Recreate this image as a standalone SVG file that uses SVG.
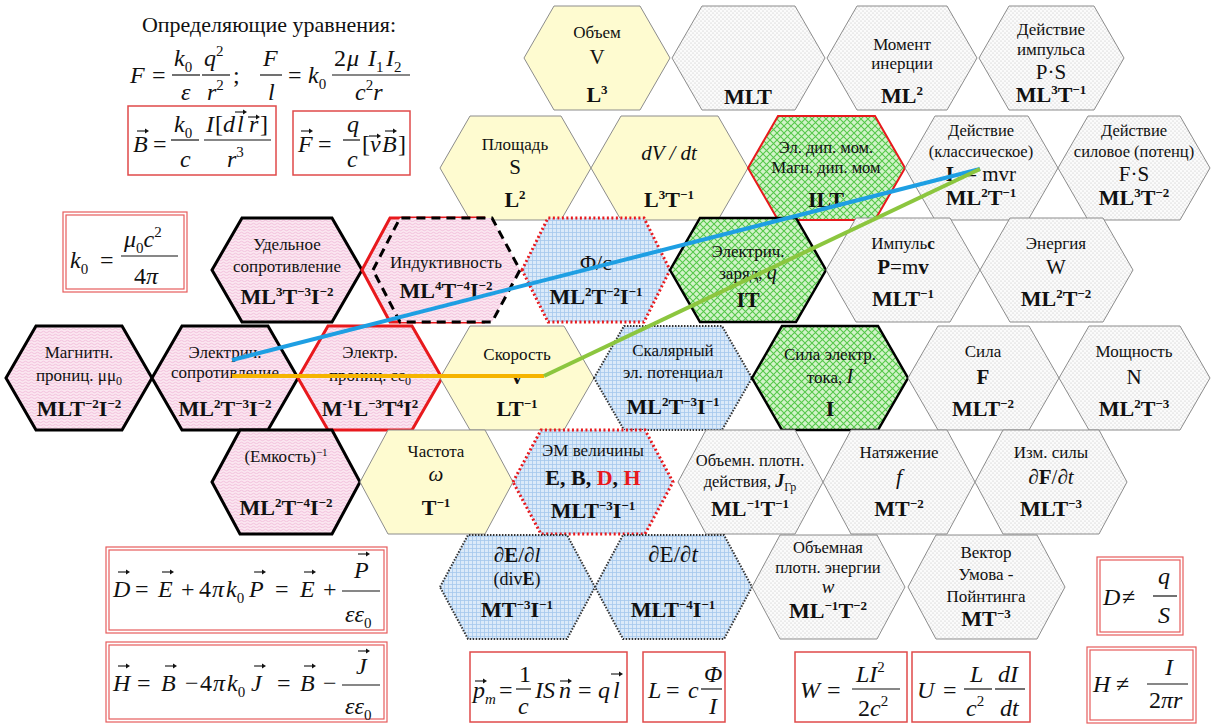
<svg xmlns="http://www.w3.org/2000/svg" width="1214" height="724" viewBox="0 0 1214 724">
<style>
.t{font-family:"Liberation Serif","Times New Roman",serif;fill:#111;text-anchor:middle}
.lb{font-size:17px}
.ls{font-size:16.5px}
.lt{font-family:"Liberation Serif",serif}
.dm{font-size:22px;font-weight:bold}
.sy{font-size:21px}
.p{font-size:13px;baseline-shift:8px}
.q{font-size:11px;baseline-shift:6px}
.b{font-size:12px;baseline-shift:-4px}
.i{font-style:italic}
.bd{font-weight:bold}
.red{fill:#e8191d}
.hpk{fill:url(#pk);stroke:#000;stroke-width:3}
.hpr{fill:url(#pk);stroke:#e8191d;stroke-width:3}
.hyl{fill:#fefbd0;stroke:#8c8c8c;stroke-width:1}
.hdt{fill:url(#dt);stroke:#8c8c8c;stroke-width:1}
.hgr{fill:url(#gr);stroke:#333;stroke-width:2;stroke-dasharray:1.5 1.5}
.hgrr{fill:url(#gr);stroke:#e8191d;stroke-width:3;stroke-dasharray:2 2.5}
.hgn{fill:url(#gn);stroke:#000;stroke-width:2.5}
.hgnr{fill:url(#gn);stroke:#e8191d;stroke-width:2}
.f{font-family:"Liberation Serif","Times New Roman",serif;font-style:italic;fill:#111;font-size:24px}
.u{font-style:normal}
.fs{font-size:15px;font-style:normal;baseline-shift:-6px}
.fp{font-size:15px;font-style:normal;baseline-shift:10px}
.fb{stroke:#111;stroke-width:1.2}
.bx{fill:none;stroke:#e04a4a;stroke-width:1.5}
.bx2{fill:none;stroke:#e65c5c;stroke-width:1.2}
</style>
<defs>
<pattern id="pk" width="6" height="6" patternUnits="userSpaceOnUse">
<rect width="6" height="6" fill="#fbe6f0"/>
<path d="M0 2Q1.5 0.5 3 2T6 2M0 5Q1.5 3.5 3 5T6 5" fill="none" stroke="#eeb0d2" stroke-width="0.7"/>
</pattern>
<pattern id="dt" width="4" height="4" patternUnits="userSpaceOnUse">
<rect width="4" height="4" fill="#fbfbfb"/>
<circle cx="1" cy="1" r="0.5" fill="#b4b4b4"/>
<circle cx="3" cy="3" r="0.5" fill="#b4b4b4"/>
</pattern>
<pattern id="gr" width="4" height="4" patternUnits="userSpaceOnUse">
<rect width="4" height="4" fill="#dbeaf9"/>
<path d="M0 .5H4M.5 0V4" stroke="#a5c8ec" stroke-width="0.8"/>
</pattern>
<pattern id="gn" width="7" height="7" patternUnits="userSpaceOnUse">
<rect width="7" height="7" fill="#d2f3c9"/>
<path d="M0 0L7 7M7 0L0 7" stroke="#55c84a" stroke-width="1.1"/>
</pattern>
<g id="va"><path d="M0 0H9.5" stroke="#111" stroke-width="1.1"/><path d="M8 -2.4L12 0L8 2.4Z" fill="#111"/></g>
</defs>
<rect width="1214" height="724" fill="#fff"/>

<!-- Row 1 -->
<g id="n-obem">
<polygon class="hyl" points="524,58 554,6 640,6 670,58 640,110 554,110"/>
<text class="t lb" x="597" y="38">Объем</text>
<text class="t sy" x="597" y="64">V</text>
<text class="t dm" x="597" y="102">L<tspan class="p">3</tspan></text>
</g>
<g id="n-mlt">
<polygon class="hdt" points="672,58 702,6 795,6 825,58 795,110 702,110"/>
<text class="t dm" x="748" y="104">MLT</text>
</g>
<g id="n-moment">
<polygon class="hdt" points="827,58 857,6 947,6 977,58 947,110 857,110"/>
<text class="t lb" x="902" y="50">Момент</text>
<text class="t lb" x="902" y="69">инерции</text>
<text class="t dm" x="902" y="103">ML<tspan class="p">2</tspan></text>
</g>
<g id="n-deistvie-imp">
<polygon class="hdt" points="979,58 1009,6 1094,6 1124,58 1094,110 1009,110"/>
<text class="t lb" x="1051" y="35">Действие</text>
<text class="t lb" x="1051" y="55">импульса</text>
<text class="t sy" x="1051" y="79">P·S</text>
<text class="t dm" x="1051" y="102">ML<tspan class="p">3</tspan>T<tspan class="p">−1</tspan></text>
</g>

<!-- Row 2 -->
<g id="n-ploshad">
<polygon class="hyl" points="440,168 470,116 561,116 591,168 561,220 470,220"/>
<text class="t lb" x="515" y="150">Площадь</text>
<text class="t sy" x="515" y="174">S</text>
<text class="t dm" x="515" y="207">L<tspan class="p">2</tspan></text>
</g>
<g id="n-dvdt">
<polygon class="hyl" points="591,168 621,116 718,116 748,168 718,220 621,220"/>
<text class="t sy i" x="669" y="160">dV / dt</text>
<text class="t dm" x="669" y="207">L<tspan class="p">3</tspan>T<tspan class="p">−1</tspan></text>
</g>
<g id="n-dipole">
<polygon class="hgnr" points="748,168 778,116 875,116 905,168 875,220 778,220"/>
<text class="t ls" x="826" y="153">Эл. дип. мом.</text>
<text class="t ls" x="826" y="173">Магн. дип. мом</text>
<text class="t dm" x="826" y="207">ILT</text>
</g>
<g id="n-deistvie-klass">
<polygon class="hdt" points="905,168 935,116 1028,116 1058,168 1028,220 935,220"/>
<text class="t ls" x="981" y="136">Действие</text>
<text class="t ls" x="981" y="157">(классическое)</text>
<text class="t sy" x="981" y="181"><tspan class="bd">L</tspan> = mvr</text>
<text class="t dm" x="981" y="205">ML<tspan class="p">2</tspan>T<tspan class="p">−1</tspan></text>
</g>
<g id="n-deistvie-sil">
<polygon class="hdt" points="1058,168 1088,116 1180,116 1210,168 1180,220 1088,220"/>
<text class="t ls" x="1134" y="136">Действие</text>
<text class="t ls" x="1134" y="157">силовое (потенц)</text>
<text class="t sy" x="1134" y="181">F·S</text>
<text class="t dm" x="1134" y="205">ML<tspan class="p">3</tspan>T<tspan class="p">−2</tspan></text>
</g>

<!-- Row 3 -->
<g id="n-udelnoe">
<polygon class="hpk" points="212,270 242,218 332,218 362,270 332,322 242,322"/>
<text class="t lb" x="287" y="250">Удельное</text>
<text class="t lb" x="287" y="272">сопротивление</text>
<text class="t dm" x="287" y="304">ML<tspan class="p">3</tspan>T<tspan class="p">−3</tspan>I<tspan class="p">−2</tspan></text>
</g>
<g id="n-induktivnost">
<polygon class="hpr" points="362,270 390,218 484,218 512,270 484,322 390,322"/>
<polygon points="373,270 400,218 492,218 520,270 492,322 400,322" fill="url(#pk)" stroke="#000" stroke-width="3" stroke-dasharray="9 6"/>
<text class="t lb" x="446" y="268">Индуктивность</text>
<text class="t dm" x="446" y="298">ML<tspan class="p">4</tspan>T<tspan class="p">−4</tspan>I<tspan class="p">−2</tspan></text>
</g>
<g id="n-phi-c">
<polygon class="hgrr" points="522,270 548,218 644,218 670,270 644,322 548,322"/>
<text class="t" x="596" y="270" font-size="22">Φ/c</text>
<text class="t dm" x="596" y="304">ML<tspan class="p">2</tspan>T<tspan class="p">−2</tspan>I<tspan class="p">−1</tspan></text>
</g>
<g id="n-zaryad">
<polygon class="hgn" points="670,270 700,218 796,218 826,270 796,322 700,322"/>
<text class="t lb" x="748" y="257">Электрич.</text>
<text class="t lb" x="748" y="279">заряд, <tspan class="i" font-size="20">q</tspan></text>
<text class="t dm" x="748" y="307">IT</text>
</g>
<g id="n-impuls">
<polygon class="hdt" points="826,270 856,218 950,218 980,270 950,322 856,322"/>
<text class="t lb" x="903" y="249">Импуль<tspan class="bd">с</tspan></text>
<text class="t sy" x="903" y="274"><tspan class="bd">P</tspan>=m<tspan class="bd">v</tspan></text>
<text class="t dm" x="903" y="306">MLT<tspan class="p">−1</tspan></text>
</g>
<g id="n-energiya">
<polygon class="hdt" points="980,270 1010,218 1103,218 1133,270 1103,322 1010,322"/>
<text class="t lb" x="1056" y="249">Энергия</text>
<text class="t sy" x="1056" y="274">W</text>
<text class="t dm" x="1056" y="306">ML<tspan class="p">2</tspan>T<tspan class="p">−2</tspan></text>
</g>

<!-- Row 4 -->
<g id="n-magn-pronic">
<polygon class="hpk" points="6,378 36,326 122,326 152,378 122,430 36,430"/>
<text class="t lb" x="79" y="358">Магнитн.</text>
<text class="t lb" x="79" y="381">прониц. μμ<tspan class="b">0</tspan></text>
<text class="t dm" x="79" y="416">MLT<tspan class="p">−2</tspan>I<tspan class="p">−2</tspan></text>
</g>
<g id="n-el-sopr">
<polygon class="hpk" points="152,378 182,326 268,326 298,378 268,430 182,430"/>
<text class="t lb" x="225" y="358">Электрич.</text>
<text class="t lb" x="225" y="378">сопротивление</text>
<text class="t dm" x="225" y="416">ML<tspan class="p">2</tspan>T<tspan class="p">−3</tspan>I<tspan class="p">−2</tspan></text>
</g>
<g id="n-el-pronic">
<polygon class="hpr" points="298,378 328,326 412,326 442,378 412,430 328,430"/>
<text class="t lb" x="370" y="358">Электр.</text>
<text class="t lb" x="370" y="381">прониц. εε<tspan class="b">0</tspan></text>
<text class="t dm" x="370" y="416">M<tspan class="p">-1</tspan>L<tspan class="p">−3</tspan>T<tspan class="p">4</tspan>I<tspan class="p">2</tspan></text>
</g>
<g id="n-skorost">
<polygon class="hyl" points="440,378 470,326 564,326 594,378 564,430 470,430"/>
<text class="t lb" x="517" y="360">Скорость</text>
<text class="t sy bd" x="517" y="384">v</text>
<text class="t dm" x="517" y="416">LT<tspan class="p">−1</tspan></text>
</g>
<g id="n-potencial">
<polygon class="hgr" points="594,378 624,326 722,326 752,378 722,430 624,430"/>
<text class="t lb" x="673" y="356">Скалярный</text>
<text class="t lb" x="673" y="378">эл. потенциал</text>
<text class="t dm" x="673" y="414">ML<tspan class="p">2</tspan>T<tspan class="p">−3</tspan>I<tspan class="p">−1</tspan></text>
</g>
<g id="n-tok">
<polygon class="hgn" points="752,378 782,326 878,326 908,378 878,430 782,430"/>
<text class="t lb" x="830" y="360">Сила электр.</text>
<text class="t lb" x="830" y="383">тока, <tspan class="i" font-size="20">I</tspan></text>
<text class="t dm" x="830" y="416">I</text>
</g>
<g id="n-sila">
<polygon class="hdt" points="908,378 938,326 1029,326 1059,378 1029,430 938,430"/>
<text class="t lb" x="983" y="357">Сила</text>
<text class="t sy bd" x="983" y="384">F</text>
<text class="t dm" x="983" y="416">MLT<tspan class="p">−2</tspan></text>
</g>
<g id="n-moshnost">
<polygon class="hdt" points="1059,378 1089,326 1180,326 1210,378 1180,430 1089,430"/>
<text class="t lb" x="1134" y="357">Мощность</text>
<text class="t sy" x="1134" y="384">N</text>
<text class="t dm" x="1134" y="416">ML<tspan class="p">2</tspan>T<tspan class="p">−3</tspan></text>
</g>

<!-- Row 5 -->
<g id="n-emkost">
<polygon class="hpk" points="212,482 240,430 332,430 360,482 332,534 240,534"/>
<text class="t lb" x="286" y="462">(Емкость)<tspan class="q">−1</tspan></text>
<text class="t dm" x="286" y="515">ML<tspan class="p">2</tspan>T<tspan class="p">−4</tspan>I<tspan class="p">−2</tspan></text>
</g>
<g id="n-chastota">
<polygon class="hyl" points="360,482 388,430 485,430 513,482 485,534 388,534"/>
<text class="t lb" x="436" y="457">Частота</text>
<text class="t sy i" x="436" y="481">ω</text>
<text class="t dm" x="436" y="515">T<tspan class="p">−1</tspan></text>
</g>
<g id="n-em">
<polygon class="hgrr" points="513,482 541,430 645,430 673,482 645,534 541,534"/>
<text class="t lb" x="593" y="456">ЭМ величины</text>
<text class="t dm" x="593" y="485">E, B, <tspan class="red">D</tspan>, <tspan class="red">H</tspan></text>
<text class="t dm" x="593" y="518">MLT<tspan class="p">−3</tspan>I<tspan class="p">−1</tspan></text>
</g>
<g id="n-plotn-deistv">
<polygon class="hdt" points="678,482 706,430 795,430 823,482 795,534 706,534"/>
<text class="t ls" x="750" y="466">Объемн. плотн.</text>
<text class="t ls" x="750" y="487">действия, <tspan class="bd i" font-size="18">J</tspan><tspan class="b">Гр</tspan></text>
<text class="t dm" x="750" y="516">ML<tspan class="p">−1</tspan>T<tspan class="p">−1</tspan></text>
</g>
<g id="n-natyazhenie">
<polygon class="hdt" points="823,482 851,430 947,430 975,482 947,534 851,534"/>
<text class="t lb" x="899" y="458">Натяжение</text>
<text class="t i" x="899" y="484" font-size="22">f</text>
<text class="t dm" x="899" y="516">MT<tspan class="p">−2</tspan></text>
</g>
<g id="n-izm-sily">
<polygon class="hdt" points="975,482 1003,430 1099,430 1127,482 1099,534 1003,534"/>
<text class="t lb" x="1051" y="458">Изм. силы</text>
<text class="t sy" x="1051" y="484"><tspan class="i">∂</tspan><tspan class="bd">F</tspan>/<tspan class="i">∂t</tspan></text>
<text class="t dm" x="1051" y="516">MLT<tspan class="p">−3</tspan></text>
</g>

<!-- Row 6 -->
<g id="n-dEdl">
<polygon class="hgr" points="440,587 468,535 567,535 595,587 567,639 468,639"/>
<text class="t sy" x="517" y="562"><tspan class="i">∂</tspan><tspan class="bd">E</tspan>/<tspan class="i">∂l</tspan></text>
<text class="t" x="517" y="585" font-size="18">(div<tspan class="bd">E</tspan>)</text>
<text class="t dm" x="517" y="617">MT<tspan class="p">−3</tspan>I<tspan class="p">−1</tspan></text>
</g>
<g id="n-dEdt">
<polygon class="hgr" points="595,587 623,535 724,535 752,587 724,639 623,639"/>
<text class="t" x="673" y="562" font-size="23"><tspan class="i">∂</tspan>E/<tspan class="i">∂t</tspan></text>
<text class="t dm" x="673" y="617">MLT<tspan class="p">−4</tspan>I<tspan class="p">−1</tspan></text>
</g>
<g id="n-plotn-energii">
<polygon class="hdt" points="752,587 780,535 877,535 905,587 877,639 780,639"/>
<text class="t ls" x="828" y="553">Объемная</text>
<text class="t ls" x="828" y="573">плотн. энергии</text>
<text class="t i" x="828" y="593" font-size="19">w</text>
<text class="t dm" x="828" y="618">ML<tspan class="p">−1</tspan>T<tspan class="p">−2</tspan></text>
</g>
<g id="n-umov">
<polygon class="hdt" points="908,587 936,535 1037,535 1065,587 1037,639 936,639"/>
<text class="t lb" x="986" y="558">Вектор</text>
<text class="t lb" x="986" y="580">Умова -</text>
<text class="t lb" x="986" y="602">Пойнтинга</text>
<text class="t dm" x="986" y="626">MT<tspan class="p">−3</tspan></text>
</g>

<!-- Connectors -->
<g id="connectors" fill="none">
<line x1="232" y1="376" x2="544" y2="376" stroke="#f5b400" stroke-width="4"/>
<line x1="232" y1="360" x2="980" y2="169" stroke="#1e9fe3" stroke-width="4"/>
<line x1="544" y1="376" x2="980" y2="169" stroke="#8cc63f" stroke-width="4"/>
</g>

<!-- Formulas -->
<g id="title">
<text class="t" x="269" y="32" font-size="22">Определяющие уравнения:</text>
</g>
<g id="f-coulomb-ampere">
<text class="f" x="130" y="83">F</text>
<text class="f u" x="152" y="83">=</text>
<text class="f" x="174" y="66">k<tspan class="fs">0</tspan></text>
<line class="fb" x1="172" y1="75" x2="200" y2="75"/>
<text class="f" x="181" y="100">ε</text>
<text class="f" x="204" y="66">q<tspan class="fp">2</tspan></text>
<line class="fb" x1="202" y1="75" x2="230" y2="75"/>
<text class="f" x="207" y="100">r<tspan class="fp">2</tspan></text>
<text class="f u" x="233" y="83">;</text>
<text class="f" x="263" y="66">F</text>
<line class="fb" x1="260" y1="75" x2="282" y2="75"/>
<text class="f" x="268" y="100">l</text>
<text class="f u" x="288" y="83">=</text>
<text class="f" x="308" y="83">k<tspan class="fs">0</tspan></text>
<text class="f" y="66"><tspan class="u" x="334">2</tspan><tspan x="347">μ</tspan><tspan x="368">I</tspan><tspan class="fs">1</tspan><tspan x="386">I</tspan><tspan class="fs">2</tspan></text>
<line class="fb" x1="332" y1="75" x2="410" y2="75"/>
<text class="f" x="355" y="100">c<tspan class="fp">2</tspan>r</text>
</g>
<g id="f-biot">
<rect class="bx" x="128" y="106" width="148" height="69"/>
<text class="f" x="133" y="152">B</text>
<use href="#va" x="137" y="131"/>
<text class="f u" x="153" y="152">=</text>
<text class="f" x="174" y="132">k<tspan class="fs">0</tspan></text>
<line class="fb" x1="171" y1="140" x2="199" y2="140"/>
<text class="f" x="180" y="167">c</text>
<text class="f" y="132"><tspan x="206">I</tspan><tspan class="u" x="215">[</tspan><tspan x="223">d</tspan><tspan x="237">l</tspan><tspan x="249">r</tspan><tspan class="u" x="260">]</tspan></text>
<use href="#va" x="235" y="112"/>
<use href="#va" x="248" y="117"/>
<line class="fb" x1="204" y1="140" x2="271" y2="140"/>
<text class="f" x="227" y="167">r<tspan class="fp">3</tspan></text>
</g>
<g id="f-lorentz">
<rect class="bx" x="293" y="111" width="117" height="64"/>
<text class="f" x="298" y="152">F</text>
<use href="#va" x="301" y="131"/>
<text class="f u" x="318" y="152">=</text>
<text class="f" x="347" y="132">q</text>
<line class="fb" x1="343" y1="140" x2="360" y2="140"/>
<text class="f" x="347" y="167">c</text>
<text class="f" y="152"><tspan class="u" x="362">[</tspan><tspan x="370">v</tspan><tspan x="382">B</tspan><tspan class="u" x="398">]</tspan></text>
<use href="#va" x="369" y="136"/>
<use href="#va" x="385" y="131"/>
</g>
<g id="f-k0">
<rect class="bx2" x="63" y="212" width="124" height="80"/>
<rect class="bx2" x="66" y="215" width="118" height="74"/>
<text class="f" x="70" y="268" font-size="28">k<tspan class="fs" font-size="17">0</tspan></text>
<text class="f u" x="100" y="268" font-size="28">=</text>
<text class="f" x="124" y="247" font-size="28">μ<tspan class="fs" font-size="17">0</tspan>c<tspan class="fp" font-size="17">2</tspan></text>
<line class="fb" x1="121" y1="256" x2="178" y2="256"/>
<text class="f" x="134" y="284" font-size="28"><tspan class="u">4</tspan>π</text>
</g>
<g id="f-D">
<rect class="bx2" x="106" y="547" width="281" height="86"/>
<rect class="bx2" x="109" y="550" width="275" height="80"/>
<text class="f" y="597" font-size="28"><tspan x="113">D</tspan><tspan class="u" x="135">=</tspan><tspan x="158">E</tspan><tspan class="u" x="181">+</tspan><tspan class="u" x="199">4</tspan><tspan x="212">π</tspan><tspan x="226">k</tspan><tspan class="fs" font-size="16">0</tspan><tspan x="249">P</tspan><tspan class="u" x="275">=</tspan><tspan x="300">E</tspan><tspan class="u" x="323">+</tspan></text>
<use href="#va" x="118" y="572"/>
<use href="#va" x="162" y="572"/>
<use href="#va" x="254" y="572"/>
<use href="#va" x="304" y="572"/>
<text class="f" x="354" y="578" font-size="28">P</text>
<use href="#va" x="358" y="554"/>
<line class="fb" x1="342" y1="591" x2="380" y2="591"/>
<text class="f" x="345" y="622" font-size="28">εε<tspan class="fs" font-size="16">0</tspan></text>
</g>
<g id="f-H">
<rect class="bx2" x="106" y="642" width="281" height="80"/>
<rect class="bx2" x="109" y="645" width="275" height="74"/>
<text class="f" y="691" font-size="28"><tspan x="113">H</tspan><tspan class="u" x="137">=</tspan><tspan x="161">B</tspan><tspan class="u" x="185">−</tspan><tspan class="u" x="200">4</tspan><tspan x="213">π</tspan><tspan x="227">k</tspan><tspan class="fs" font-size="16">0</tspan><tspan x="251">J</tspan><tspan class="u" x="277">=</tspan><tspan x="300">B</tspan><tspan class="u" x="323">−</tspan></text>
<use href="#va" x="118" y="666"/>
<use href="#va" x="165" y="666"/>
<use href="#va" x="254" y="666"/>
<use href="#va" x="304" y="666"/>
<text class="f" x="356" y="674" font-size="28">J</text>
<use href="#va" x="358" y="651"/>
<line class="fb" x1="342" y1="685" x2="380" y2="685"/>
<text class="f" x="345" y="714" font-size="28">εε<tspan class="fs" font-size="16">0</tspan></text>
</g>
<g id="f-pm">
<rect class="bx" x="470" y="652" width="157" height="70"/>
<text class="f" y="698" font-size="26"><tspan x="473">p</tspan><tspan font-size="15" baseline-shift="-6">m</tspan><tspan class="u" x="499">=</tspan><tspan x="535">IS</tspan><tspan x="559">n</tspan><tspan class="u" x="578">=</tspan><tspan x="598">q</tspan><tspan x="613">l</tspan></text>
<use href="#va" x="475" y="681"/>
<use href="#va" x="560" y="681"/>
<use href="#va" x="611" y="674"/>
<text class="f u" x="519" y="682" font-size="26">1</text>
<line class="fb" x1="516" y1="689" x2="531" y2="689"/>
<text class="f" x="518" y="714" font-size="26">c</text>
</g>
<g id="f-L">
<rect class="bx" x="643" y="652" width="82" height="70"/>
<text class="f" y="698" font-size="26"><tspan x="648">L</tspan><tspan class="u" x="666">=</tspan><tspan x="688">c</tspan></text>
<text class="f" x="704" y="682" font-size="26">Φ</text>
<line class="fb" x1="701" y1="689" x2="722" y2="689"/>
<text class="f" x="709" y="714" font-size="26">I</text>
</g>
<g id="f-W">
<rect class="bx" x="795" y="652" width="112" height="70"/>
<text class="f" y="698" font-size="26"><tspan x="800">W</tspan><tspan class="u" x="827">=</tspan></text>
<text class="f" x="856" y="682" font-size="26">LI<tspan class="fp">2</tspan></text>
<line class="fb" x1="852" y1="689" x2="900" y2="689"/>
<text class="f" x="858" y="716" font-size="26"><tspan class="u">2</tspan>c<tspan class="fp">2</tspan></text>
</g>
<g id="f-U">
<rect class="bx" x="912" y="652" width="118" height="70"/>
<text class="f" y="698" font-size="26"><tspan x="917">U</tspan><tspan class="u" x="943">=</tspan></text>
<text class="f" x="970" y="682" font-size="26">L</text>
<line class="fb" x1="964" y1="689" x2="992" y2="689"/>
<text class="f" x="966" y="716" font-size="26">c<tspan class="fp">2</tspan></text>
<text class="f" x="998" y="682" font-size="26">dI</text>
<line class="fb" x1="995" y1="689" x2="1025" y2="689"/>
<text class="f" x="1000" y="716" font-size="26">dt</text>
</g>
<g id="f-Dneq">
<rect class="bx2" x="1097" y="557" width="86" height="78"/>
<rect class="bx2" x="1100" y="560" width="80" height="72"/>
<text class="f" x="1103" y="605">D</text>
<text class="f u" x="1122" y="605">≠</text>
<text class="f" x="1158" y="584">q</text>
<line class="fb" x1="1153" y1="596" x2="1177" y2="596"/>
<text class="f" x="1158" y="623">S</text>
</g>
<g id="f-Hneq">
<rect class="bx2" x="1087" y="647" width="109" height="76"/>
<rect class="bx2" x="1090" y="650" width="103" height="70"/>
<text class="f" x="1093" y="692">H</text>
<text class="f u" x="1116" y="692">≠</text>
<text class="f" x="1165" y="675">I</text>
<line class="fb" x1="1147" y1="684" x2="1188" y2="684"/>
<text class="f" x="1149" y="708"><tspan class="u">2</tspan>πr</text>
</g>
</svg>
